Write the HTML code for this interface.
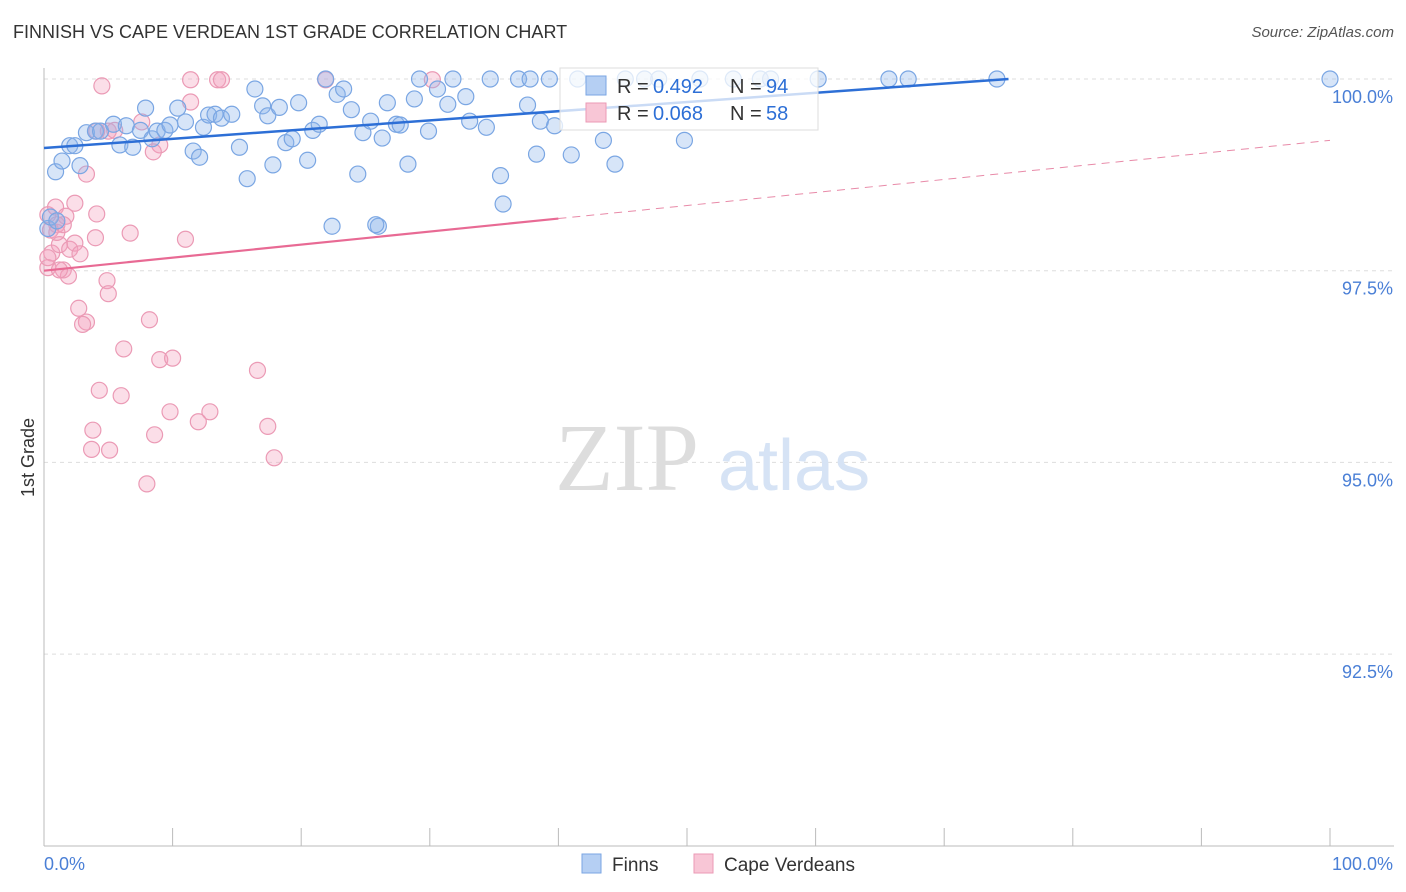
<!DOCTYPE html>
<html><head><meta charset="utf-8"><style>
body{margin:0;background:#fff;font-family:"Liberation Sans",sans-serif;}
#wrap{position:relative;width:1406px;height:892px;overflow:hidden;}
.t{position:absolute;white-space:nowrap;}
</style></head><body>
<div id="wrap">
<div class="t" style="left:13px;top:22px;font-size:18px;color:#333;">FINNISH VS CAPE VERDEAN 1ST GRADE CORRELATION CHART</div>
<div class="t" style="right:12px;top:24px;font-size:15px;color:#555;font-style:italic;">Source: ZipAtlas.com</div>
<svg id="plot" width="1406" height="892" style="position:absolute;left:0;top:0"></svg>
</div>
<script>
const blueX=[0.9,1.4,2.0,2.4,2.8,3.3,4.0,4.4,5.4,5.9,6.4,6.9,7.5,7.9,8.4,8.8,9.4,9.8,10.4,11.0,11.6,12.1,12.4,12.8,13.3,13.8,14.6,15.2,15.8,16.4,17.0,17.4,17.8,18.3,18.8,19.3,19.8,20.5,20.9,21.4,21.9,22.8,23.3,23.9,24.4,24.8,25.4,26.0,26.3,26.7,27.4,27.7,28.3,28.8,29.2,29.9,30.6,31.4,31.8,32.8,33.1,34.4,34.7,35.5,35.7,36.9,37.6,37.8,38.3,38.6,39.3,39.7,41.0,41.5,43.5,44.4,45.2,46.7,47.8,49.8,51.0,53.6,55.7,56.5,60.2,65.7,67.2,74.1,100,22.4,25.8,0.3,0.5,1.0];
const blueY=[98.79,98.93,99.13,99.13,98.87,99.30,99.32,99.32,99.41,99.14,99.39,99.11,99.33,99.62,99.22,99.32,99.33,99.40,99.62,99.44,99.06,98.98,99.37,99.53,99.54,99.49,99.54,99.11,98.70,99.87,99.65,99.52,98.88,99.63,99.17,99.22,99.69,98.94,99.33,99.41,100,99.80,99.87,99.60,98.76,99.30,99.45,98.08,99.23,99.69,99.41,99.40,98.89,99.74,100,99.32,99.87,99.67,100,99.77,99.45,99.37,100,98.74,98.37,100,99.66,100,99.02,99.45,100,99.39,99.01,100,99.20,98.89,100,100,100,99.20,100,100,100,100,100,100,100,100,100,98.08,98.10,98.05,98.20,98.15];
const pinkX=[4.5,11.4,13.5,13.8,21.9,30.2,11.4,5.0,7.6,9.0,8.5,3.3,0.3,0.9,1.0,1.7,2.4,4.1,6.7,11.0,0.6,1.2,2.0,2.4,2.8,4.0,0.3,1.5,1.9,4.9,5.0,2.7,3.3,3.0,8.2,6.2,9.0,10.0,4.3,6.0,9.8,12.9,12.0,3.8,8.6,17.4,3.7,5.1,17.9,8.0,16.6,5.5,4.1,0.5,1.0,1.2,0.3,1.5];
const pinkY=[99.91,99.99,99.99,99.99,99.99,99.99,99.70,99.32,99.44,99.14,99.05,98.76,98.23,98.33,98.10,98.21,98.38,98.24,97.99,97.91,97.73,97.84,97.78,97.86,97.72,97.93,97.54,97.51,97.43,97.37,97.20,97.01,96.83,96.80,96.86,96.48,96.34,96.36,95.94,95.87,95.66,95.66,95.53,95.42,95.36,95.47,95.17,95.16,95.06,94.72,96.20,99.33,99.32,98.03,98.00,97.51,97.67,98.10];
const blueTrend=[[0,99.10],[75,100.0]];
const pinkTrend=[[0,97.50],[40,98.18],[100,99.20]];
const yTicks=[100,97.5,95,92.5];
const yTickLabels=["100.0%","97.5%","95.0%","92.5%"];
const NS="http://www.w3.org/2000/svg";
const svg=document.getElementById('plot');
function sx(v){return 44+v*12.86;}
function sy(v){return 79+(100-v)*76.68;}
function el(tag,attrs,parent){const e=document.createElementNS(NS,tag);for(const k in attrs)e.setAttribute(k,attrs[k]);(parent||svg).appendChild(e);return e;}
// gridlines
yTicks.forEach((t,i)=>{
  const g=el('line',{x1:44,x2:1394,y1:sy(t),y2:sy(t),stroke:'#ddd','stroke-dasharray':'4,4'});
  
  
  const tx=el('text',{x:1393,y:sy(t)+24,'text-anchor':'end','font-size':18,fill:'#4a7fd6','font-family':'Liberation Sans, sans-serif'});
  tx.textContent=yTickLabels[i];
  
  
});
// axes
const ya=el('line',{x1:44,x2:44,y1:68,y2:846,stroke:'#bbb'});


const xa=el('line',{x1:44,x2:1394,y1:846,y2:846,stroke:'#bbb'});


for(let i=1;i<=10;i++){const tk=el('line',{x1:sx(i*10),x2:sx(i*10),y1:828,y2:846,stroke:'#bbb'});

}
// watermark
const wm=el('text',{x:555,y:490,'font-size':96,fill:'#ddd','font-family':'Liberation Serif, serif'});wm.textContent='ZIP';


const wm2=el('text',{x:718,y:490,'font-size':72,fill:'#d6e3f5','font-family':'Liberation Sans, sans-serif'});wm2.textContent='atlas';


// points
pinkX.forEach((x,i)=>{const c=el('circle',{cx:sx(x),cy:sy(pinkY[i]),r:8,fill:'rgba(244,160,188,0.35)',stroke:'#eb9ab5','stroke-width':1.2});

});
blueX.forEach((x,i)=>{const c=el('circle',{cx:sx(x),cy:sy(blueY[i]),r:8,fill:'rgba(140,180,235,0.35)',stroke:'#7aa6e3','stroke-width':1.2});

});
// trends
const bl=el('line',{x1:sx(blueTrend[0][0]),y1:sy(blueTrend[0][1]),x2:sx(blueTrend[1][0]),y2:sy(blueTrend[1][1]),stroke:'#2d6fd6','stroke-width':2.5});


const pl=el('line',{x1:sx(pinkTrend[0][0]),y1:sy(pinkTrend[0][1]),x2:sx(pinkTrend[1][0]),y2:sy(pinkTrend[1][1]),stroke:'#e86a94','stroke-width':2.2});


const pd=el('line',{x1:sx(pinkTrend[1][0]),y1:sy(pinkTrend[1][1]),x2:sx(pinkTrend[2][0]),y2:sy(pinkTrend[2][1]),stroke:'#e88aa8','stroke-width':1,'stroke-dasharray':'8,6'});


// legend box
const lg=el('g',{});


el('rect',{x:560,y:68,width:258,height:62,fill:'rgba(255,255,255,0.75)',stroke:'#ddd'},lg);
el('rect',{x:586,y:76,width:20,height:19,fill:'#b5cff3',stroke:'#7aa6e3'},lg);
el('rect',{x:586,y:103,width:20,height:19,fill:'#f8c6d6',stroke:'#eb9ab5'},lg);
function lt(x,y,s,c){const t=el('text',{x:x,y:y,'font-size':20,fill:c,'font-family':'Liberation Sans, sans-serif'},lg);t.textContent=s;return t;}
lt(617,93,'R = ','#333');lt(653,93,'0.492','#2d6fd6');lt(730,93,'N = ','#333');lt(766,93,'94','#2d6fd6');
lt(617,120,'R = ','#333');lt(653,120,'0.068','#2d6fd6');lt(730,120,'N = ','#333');lt(766,120,'58','#2d6fd6');
// y axis title
const yt=el('text',{x:0,y:0,'font-size':18,fill:'#333','font-family':'Liberation Sans, sans-serif',transform:'translate(34,497) rotate(-90)'});yt.textContent='1st Grade';


// x labels
const x0=el('text',{x:44,y:870,'font-size':18,fill:'#4a7fd6','font-family':'Liberation Sans, sans-serif'});x0.textContent='0.0%';


const x1=el('text',{x:1393,y:870,'text-anchor':'end','font-size':18,fill:'#4a7fd6','font-family':'Liberation Sans, sans-serif'});x1.textContent='100.0%';


// bottom legend
const b1=el('rect',{x:582,y:854,width:19,height:19,fill:'#b5cff3',stroke:'#7aa6e3'});


const bt1=el('text',{x:612,y:871,'font-size':19,fill:'#333','font-family':'Liberation Sans, sans-serif'});bt1.textContent='Finns';


const b2=el('rect',{x:694,y:854,width:19,height:19,fill:'#f8c6d6',stroke:'#eb9ab5'});


const bt2=el('text',{x:724,y:871,'font-size':19,fill:'#333','font-family':'Liberation Sans, sans-serif'});bt2.textContent='Cape Verdeans';


</script>
</body></html>
